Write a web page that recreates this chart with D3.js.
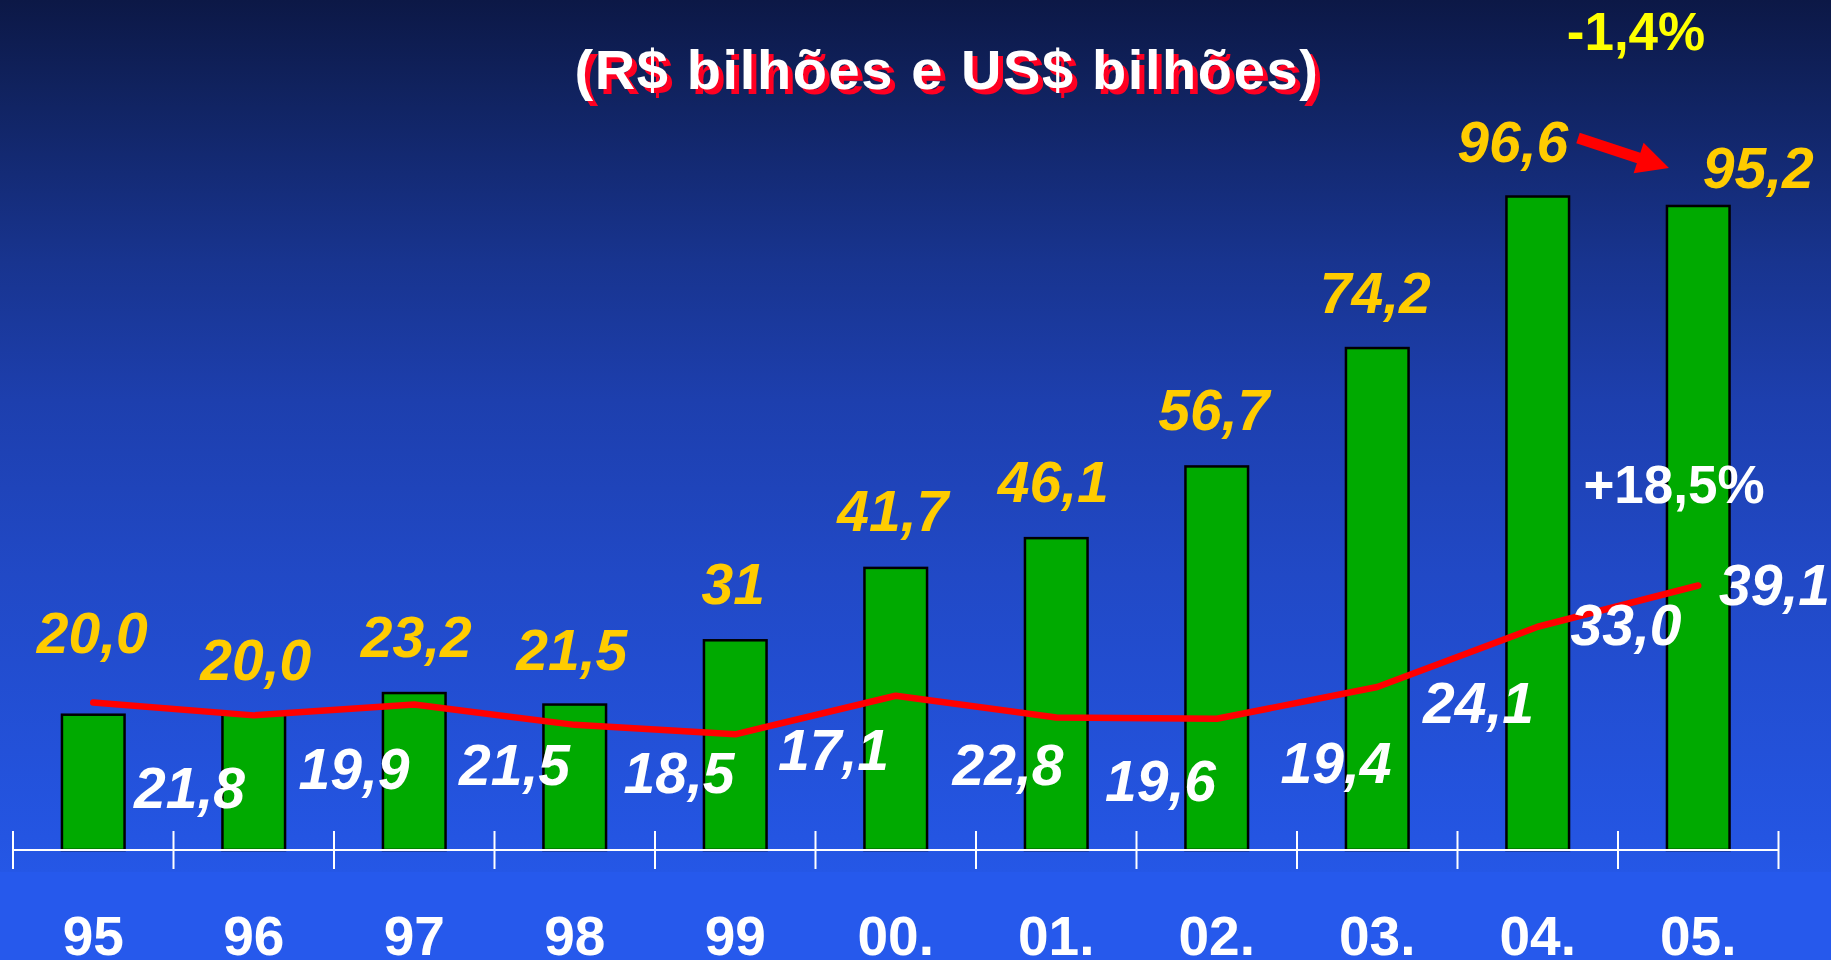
<!DOCTYPE html>
<html>
<head>
<meta charset="utf-8">
<script src="https://cdn.jsdelivr.net/npm/d3@7"></script>
<style>
  html, body { margin: 0; padding: 0; overflow: hidden; background: #2659ec; }
  svg { display: block; }
  text { font-family: "Liberation Sans", Arial, Helvetica, sans-serif; font-weight: bold; }
</style>
</head>
<body>
<svg id="chart" width="1831" height="960"></svg>
<script>
// ---- data ----
const years = ["95", "96", "97", "98", "99", "00.", "01.", "02.", "03.", "04.", "05."];
const brlValues = [20.0, 20.0, 23.2, 21.5, 31, 41.7, 46.1, 56.7, 74.2, 96.6, 95.2];
const brlLabels = ["20,0", "20,0", "23,2", "21,5", "31", "41,7", "46,1", "56,7", "74,2", "96,6", "95,2"];
const usdValues = [21.8, 19.9, 21.5, 18.5, 17.1, 22.8, 19.6, 19.4, 24.1, 33.0, 39.1];
const usdLabels = ["21,8", "19,9", "21,5", "18,5", "17,1", "22,8", "19,6", "19,4", "24,1", "33,0", "39,1"];
const titleText = "(R$ bilhões e US$ bilhões)";
const changeBrl = "-1,4%";
const changeUsd = "+18,5%";

// ---- layout (label nudges, px) ----
const brlLabelDx = [-1, 2, 2, -3, -2, -3, -3, -3, -2, -25, 60];
const brlLabelDy = [-62, -35, -36, -35, -36, -37, -36, -36, -35, -35, -18];
const usdLabelDx = [16, 20, 20, 24, 18, 32, 24, 39, 21, 8, -4];
const usdLabelBaseline = [808, 789, 785, 793, 770, 785, 801, 783, 723, 645, 605];

const W = 1831, H = 960;
const svg = d3.select("#chart");

// background gradient
const defs = svg.append("defs");
const grad = defs.append("linearGradient").attr("id", "bg").attr("x1", 0).attr("y1", 0).attr("x2", 0).attr("y2", 1);
[[0, "#0c1846"], [0.1, "#10225e"], [0.3, "#18348f"], [0.46, "#1d3fae"], [0.66, "#2149c6"], [0.96, "#2455e2"], [1, "#2557e6"]]
  .forEach(([o, c]) => grad.append("stop").attr("offset", o).attr("stop-color", c));
svg.append("rect").attr("width", W).attr("height", 872).attr("fill", "url(#bg)");
svg.append("rect").attr("y", 872).attr("width", W).attr("height", H - 872).attr("fill", "#2659ec");

// scales
const axisY = 850;
const x = d3.scaleBand().domain(years).range([13, 1778.5]).paddingInner(0.61).paddingOuter(0.305);
const y = d3.scaleLinear().domain([0, 125.65]).range([axisY, 0]);
const step = x.step();
const cx = d => x(d) + x.bandwidth() / 2;

// bars
svg.append("g").selectAll("rect").data(brlValues).join("rect")
  .attr("x", (d, i) => x(years[i]))
  .attr("y", d => y(d))
  .attr("width", x.bandwidth())
  .attr("height", d => axisY - y(d))
  .attr("fill", "#00aa00")
  .attr("stroke", "#000")
  .attr("stroke-width", 2.5);

// axis line and ticks at band boundaries
const left = x(years[0]) - step * x.paddingOuter();
const boundaries = d3.range(years.length + 1).map(i => left + i * step);
const axisG = svg.append("g");
axisG.append("line").attr("x1", boundaries[0]).attr("x2", boundaries[boundaries.length - 1])
  .attr("y1", axisY).attr("y2", axisY).attr("stroke", "#fff").attr("stroke-width", 2);
axisG.selectAll("line.tick").data(boundaries).join("line").attr("class", "tick")
  .attr("x1", d => d).attr("x2", d => d).attr("y1", axisY - 19).attr("y2", axisY + 19)
  .attr("stroke", "#fff").attr("stroke-width", 2);

// year labels
svg.append("g").selectAll("text").data(years).join("text")
  .attr("x", d => cx(d)).attr("y", 955)
  .attr("text-anchor", "middle").attr("fill", "#fff").attr("font-size", 55)
  .text(d => d);

// US$ line
const line = d3.line().x((d, i) => cx(years[i])).y(d => y(d));
svg.append("path").datum(usdValues).attr("d", line)
  .attr("fill", "none").attr("stroke", "#ff0000").attr("stroke-width", 6.5)
  .attr("stroke-linecap", "round").attr("stroke-linejoin", "round");

// R$ labels
svg.append("g").selectAll("text").data(brlValues).join("text")
  .attr("x", (d, i) => cx(years[i]) + brlLabelDx[i])
  .attr("y", (d, i) => y(d) + brlLabelDy[i])
  .attr("text-anchor", "middle").attr("fill", "#ffcc00").attr("font-size", 57).attr("font-style", "italic")
  .text((d, i) => brlLabels[i]);

// US$ labels
svg.append("g").selectAll("text").data(usdValues).join("text")
  .attr("x", (d, i) => boundaries[i + 1] + usdLabelDx[i])
  .attr("y", (d, i) => usdLabelBaseline[i])
  .attr("text-anchor", "middle").attr("fill", "#fff").attr("font-size", 57).attr("font-style", "italic")
  .text((d, i) => usdLabels[i]);

// title with red shadow
const tg = svg.append("g");
tg.append("text").attr("x", 952).attr("y", 94).attr("text-anchor", "middle")
  .attr("fill", "#ff0022").attr("font-size", 56).attr("letter-spacing", 1.6).text(titleText);
tg.append("text").attr("x", 947).attr("y", 89).attr("text-anchor", "middle")
  .attr("fill", "#fff").attr("font-size", 56).attr("letter-spacing", 1.6).text(titleText);

// percent annotations
svg.append("text").attr("x", 1636).attr("y", 50).attr("text-anchor", "middle")
  .attr("fill", "#ffff00").attr("font-size", 53).text(changeBrl);
svg.append("text").attr("x", 1674).attr("y", 503).attr("text-anchor", "middle")
  .attr("fill", "#fff").attr("font-size", 53).text(changeUsd);

// arrow from 96,6 label to 95,2 label
const a0 = [1578, 138], a1 = [1669, 168];
const dx = a1[0] - a0[0], dy = a1[1] - a0[1], len = Math.hypot(dx, dy);
const u = [dx / len, dy / len], n = [-u[1], u[0]];
const hw = 5.5, hl = 32, hh = 16;
const b = [a1[0] - hl * u[0], a1[1] - hl * u[1]];
const pts = [
  [a0[0] + hw * n[0], a0[1] + hw * n[1]],
  [b[0] + hw * n[0], b[1] + hw * n[1]],
  [b[0] + hh * n[0], b[1] + hh * n[1]],
  a1,
  [b[0] - hh * n[0], b[1] - hh * n[1]],
  [b[0] - hw * n[0], b[1] - hw * n[1]],
  [a0[0] - hw * n[0], a0[1] - hw * n[1]]
];
svg.append("polygon").attr("points", pts.map(p => p.join(",")).join(" ")).attr("fill", "#ff0000");
</script>
</body>
</html>
